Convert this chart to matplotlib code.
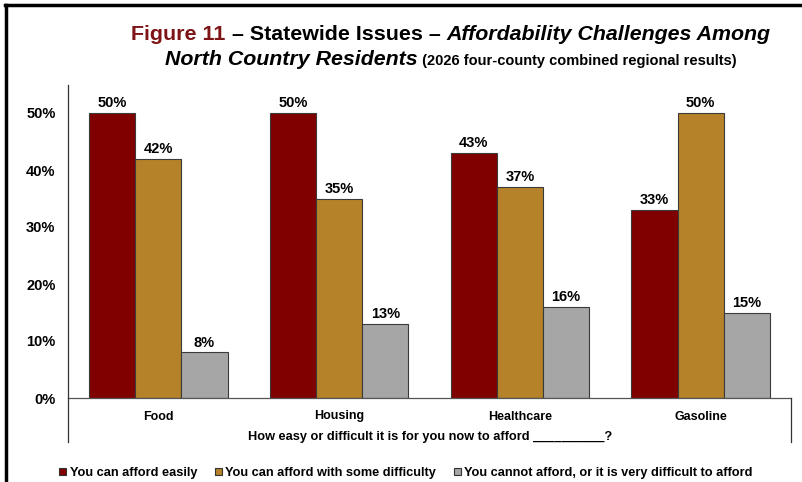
import numpy as np
import matplotlib
matplotlib.use("Agg")
import matplotlib.pyplot as plt
from matplotlib.patches import Patch
from matplotlib.lines import Line2D

plt.rcParams['font.family'] = ['Liberation Sans', 'DejaVu Sans']

categories = ["Food", "Housing", "Healthcare", "Gasoline"]
series_names = [
    "You can afford easily",
    "You can afford with some difficulty",
    "You cannot afford, or it is very difficult to afford",
]
afford_easily = [50, 50, 43, 33]
some_difficulty = [42, 35, 37, 50]
cannot_afford = [8, 13, 16, 15]
yticks = [0, 10, 20, 30, 40, 50]

colors = ["#800000", "#B5822A", "#A6A6A6"]
W, H = 803, 482

fig = plt.figure(figsize=(W / 100, H / 100), dpi=100)
ax = fig.add_axes([68 / W, 1 - 398 / H, (791 - 68) / W, (398 - 84.5) / H])

x = np.arange(len(categories))
bw = 0.255
for i, (vals, col) in enumerate(zip([afford_easily, some_difficulty, cannot_afford], colors)):
    bars = ax.bar(x + (i - 1) * bw, vals, bw, color=col, edgecolor="#3a3a3a", linewidth=0.8)
    ax.bar_label(bars, labels=[f"{v}%" for v in vals], padding=2,
                 fontsize=10.5, fontweight="bold")

ax.set_xlim(-0.5, len(categories) - 0.5)
ax.set_ylim(0, 55)
ax.set_yticks(yticks)
ax.set_yticklabels([f"{v}%" for v in yticks], fontsize=10.5, fontweight="bold")
ax.set_xticks(x)
ax.set_xticklabels(categories, fontsize=9, fontweight="bold")
ax.tick_params(axis="y", length=0, pad=9)
ax.tick_params(axis="x", length=0, pad=9)
for s in ["top", "right", "left"]:
    ax.spines[s].set_visible(False)
ax.spines["bottom"].set_color("#555555")
ax.spines["bottom"].set_linewidth(0.9)


def fig_line(xs, ys, **kw):
    fig.add_artist(Line2D([v / W for v in xs], [1 - v / H for v in ys],
                          transform=fig.transFigure, **kw))


# axis frame lines reaching below the baseline
fig_line([68, 68], [84.5, 442], color="#333333", lw=0.9)
fig_line([791, 791], [398, 442], color="#333333", lw=0.9)
# outer border
fig_line([6, 6], [5, H + 2], color="black", lw=2.5)
fig_line([5, W + 2], [5, 5], color="black", lw=2.5)

fig.text(430 / W, 1 - 437 / H,
         "How easy or difficult it is for you now to afford __________?",
         ha="center", va="center", fontsize=9.2, fontweight="bold")

# two-line title made of differently styled pieces
renderer = fig.canvas.get_renderer()


def title_line(pieces, xc, yb):
    texts = []
    for s, kw in pieces:
        texts.append(fig.text(0, yb, s, ha="left", va="baseline", **kw))
    widths = [t.get_window_extent(renderer).width for t in texts]
    x0 = xc * W - sum(widths) / 2
    for t, w in zip(texts, widths):
        t.set_x(x0 / W)
        x0 += w


title_line([
    ("Figure 11", dict(fontsize=15.4, fontweight="bold", color="#7F1416")),
    (" \u2013 Statewide Issues \u2013 ", dict(fontsize=15.4, fontweight="bold")),
    ("Affordability Challenges Among", dict(fontsize=15.4, fontweight="bold", style="italic")),
], 451 / W, 1 - 40 / H)
title_line([
    ("North Country Residents", dict(fontsize=15.4, fontweight="bold", style="italic")),
    (" (2026 four-county combined regional results)", dict(fontsize=10.5, fontweight="bold")),
], 451 / W, 1 - 65 / H)

handles = [Patch(facecolor=c, edgecolor="#333333", linewidth=0.8) for c in colors]
fig.legend(handles, series_names, loc="center", bbox_to_anchor=(406 / W, 1 - 473 / H),
           ncol=3, frameon=False, handlelength=0.55, handleheight=0.55,
           handletextpad=0.25, columnspacing=1.4,
           prop=dict(size=9.2, weight="bold"))

fig.savefig("out.png", dpi=100)
